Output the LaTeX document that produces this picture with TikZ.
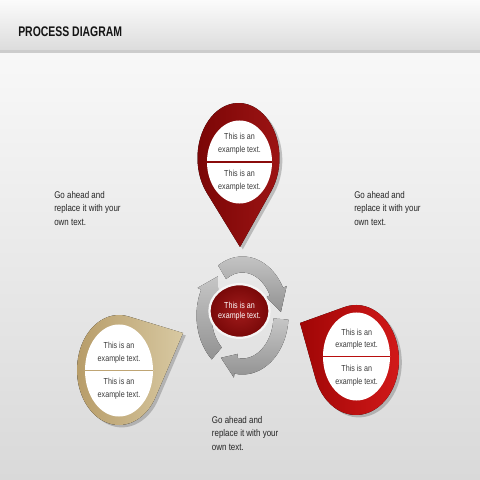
\documentclass[tikz,border=0pt]{standalone}
\usepackage{fontspec}
\setmainfont{Liberation Sans}
\newfontfamily\narrowfont{Liberation Sans}[FakeStretch=0.82]
\newfontfamily\titlefont{Liberation Sans Bold}[FakeStretch=0.75]
\usetikzlibrary{shapes.geometric,shadows}
\definecolor{headtop}{HTML}{FBFBFB}
\definecolor{headbot}{HTML}{DCDCDC}
\definecolor{headline}{HTML}{CDCDCD}
\definecolor{pagetop}{HTML}{F8F8F8}
\definecolor{pagebot}{HTML}{D9D9D9}
\definecolor{pinmaroon}{HTML}{8A0B0B}
\definecolor{pinmaroonlo}{HTML}{7A0505}
\definecolor{pinmaroonhi}{HTML}{9E1515}
\definecolor{pinred}{HTML}{B80E0E}
\definecolor{pinredlo}{HTML}{A00606}
\definecolor{pinredhi}{HTML}{D41A1A}
\definecolor{pintan}{HTML}{BFA574}
\definecolor{pintanlo}{HTML}{B69B67}
\definecolor{pintanhi}{HTML}{D8C9A2}
\definecolor{ringhi}{HTML}{C6C6C6}
\definecolor{ringlo}{HTML}{929292}
\definecolor{hubhi}{HTML}{A21C1C}
\definecolor{hublo}{HTML}{780808}
\definecolor{notegray}{HTML}{262626}
\definecolor{pintextgray}{HTML}{3A3A3A}
\tikzset{
	pinshadow/.style={drop shadow={shadow xshift=0.07cm,shadow yshift=-0.06cm,opacity=0.3,fill=black!70}},
	whitebody/.style={ellipse,fill=white,inner sep=0pt},
	divider/.style={line width=1pt},
	pintext/.style={align=center,inner sep=0pt,text=pintextgray,font=\narrowfont\fontsize{6.2}{9}\selectfont},
	note/.style={align=left,anchor=west,inner sep=0pt,text=notegray,font=\narrowfont\fontsize{6.9}{9.5}\selectfont},
	ringarrow/.style={top color=ringhi,bottom color=ringlo}
}
\begin{document}
\begin{tikzpicture}[x=0.025cm,y=0.025cm]
	\useasboundingbox (0,0) rectangle (480,480);
	\fill[top color=pagetop,bottom color=pagebot] (0,0) rectangle (480,427);
	\fill[top color=headtop,bottom color=headbot] (0,429) rectangle (480,480);
	\fill[headline] (0,427) rectangle (480,429.5);
	\node[anchor=west,inner sep=0pt,text=black!92,font=\titlefont\fontsize{9.9}{12}\selectfont] (title) at (18,448.3) {PROCESS DIAGRAM};

	\foreach \ta/\tb/\tc in {122/28/4,-4/-100/-124,-132/-206/-230}
		\fill[ringarrow] ({242.5+46*cos(\ta)},{164.5+59*sin(\ta)}) arc[start angle=\ta,end angle=\tb,x radius=46,y radius=59]
			-- ({242.5+50*cos(\tb)},{164.5+63*sin(\tb)}) -- ({242.5+38.5*cos(\tc)},{164.5+51*sin(\tc)})
			-- ({242.5+27*cos(\tb)},{164.5+39*sin(\tb)}) -- ({242.5+31*cos(\tb)},{164.5+43*sin(\tb)})
			arc[start angle=\tb,end angle=\ta,x radius=31,y radius=43] -- cycle;
	\node[ellipse,inner sep=0pt,minimum width=1.42cm,minimum height=1.34cm,inner color=hubhi,outer color=hublo,draw=white!92!gray,line width=1.6pt,align=center,text=white,font=\narrowfont\fontsize{6.2}{7.2}\selectfont] (hub) at (239.5,169) {This is an\\example text.};

	\fill[pinshadow,left color=pinmaroonlo,right color=pinmaroonhi] (240,233) -- ({238.5+41*cos(-36.9)},{322+55*sin(-36.9)}) arc[start angle=-36.9,end angle=219.5,x radius=41,y radius=55] -- cycle;
	\node[whitebody,minimum width=1.625cm,minimum height=2.075cm] (topbody) at (239.5,318) {};
	\draw[divider,pinmaroon] (topbody.west) -- (topbody.east);
	\node[pintext] (topup) at (239.5,336) {This is an\\example text.};
	\node[pintext] (toplow) at (239.5,299) {This is an\\example text.};

	\fill[pinshadow,left color=pintanlo,right color=pintanhi] (183,147) -- ({119+42*cos(75.9)},{110+55*sin(75.9)}) arc[start angle=75.9,end angle=331.2,x radius=42,y radius=55] -- cycle;
	\node[whitebody,minimum width=1.7cm,minimum height=2.3cm] (tanbody) at (119,109.5) {};
	\draw[divider,pintan] (tanbody.west) -- (tanbody.east);
	\node[pintext] (tanup) at (119,127) {This is an\\example text.};
	\node[pintext] (tanlow) at (119,91.5) {This is an\\example text.};

	\fill[pinshadow,left color=pinredlo,right color=pinredhi] (300,157) -- ({356+43*cos(199.7)},{120+55*sin(199.7)}) arc[start angle=199.7,end angle=465.7,x radius=43,y radius=55] -- cycle;
	\node[whitebody,minimum width=1.675cm,minimum height=2.2cm] (redbody) at (356.5,123.5) {};
	\draw[divider,pinred] (redbody.west) -- (redbody.east);
	\node[pintext] (redup) at (356.7,140.7) {This is an\\example text.};
	\node[pintext] (redlow) at (356.7,104.2) {This is an\\example text.};

	\node[note] (noteleft) at (54,271.7) {Go ahead and\\replace it with your\\own text.};
	\node[note] (noteright) at (354,271.7) {Go ahead and\\replace it with your\\own text.};
	\node[note] (notebottom) at (211.7,46.7) {Go ahead and\\replace it with your\\own text.};
\end{tikzpicture}
\end{document}
